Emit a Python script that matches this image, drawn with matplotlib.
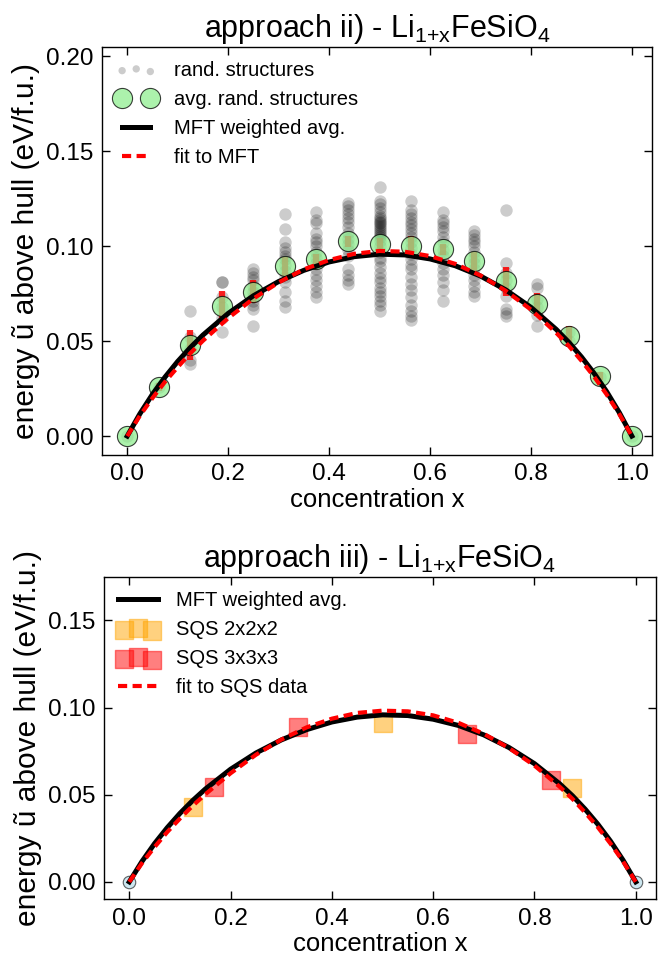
import numpy as np
import matplotlib
matplotlib.use("Agg")
import matplotlib.pyplot as plt
from matplotlib.ticker import FormatStrFormatter
from matplotlib.legend_handler import HandlerPathCollection

plt.rcParams.update({
    "font.family": ["Liberation Sans", "DejaVu Sans"],
    "mathtext.default": "regular",
    "axes.linewidth": 1.0,
})

# ---- top panel: random structures at x = k/16 ----
conc = [0, 0.0625, 0.125, 0.1875, 0.25, 0.3125, 0.375, 0.4375, 0.5,
        0.5625, 0.625, 0.6875, 0.75, 0.8125, 0.875, 0.9375, 1.0]

rand_energies = [
    [0.0],
    [0.026],
    [0.066, 0.052, 0.046, 0.040, 0.038],
    [0.081, 0.081, 0.073, 0.068, 0.062, 0.055],
    [0.088, 0.086, 0.084, 0.082, 0.079, 0.076, 0.073, 0.071, 0.069, 0.067, 0.058],
    [0.117, 0.109, 0.102, 0.099, 0.097, 0.095, 0.093, 0.090, 0.087, 0.084,
     0.081, 0.076, 0.071, 0.068],
    [0.118, 0.114, 0.112, 0.107, 0.104, 0.102, 0.100, 0.097, 0.094, 0.091,
     0.088, 0.085, 0.082, 0.079, 0.076, 0.073],
    [0.123, 0.121, 0.119, 0.117, 0.115, 0.113, 0.110, 0.107, 0.104, 0.101,
     0.098, 0.095, 0.088, 0.085, 0.082, 0.080],
    [0.131, 0.124, 0.122, 0.120, 0.118, 0.116, 0.115, 0.114, 0.113, 0.112,
     0.111, 0.110, 0.109, 0.108, 0.107, 0.106, 0.105, 0.103, 0.100, 0.097,
     0.094, 0.092, 0.089, 0.086, 0.083, 0.081, 0.078, 0.076, 0.074, 0.071,
     0.069, 0.066],
    [0.124, 0.119, 0.117, 0.115, 0.113, 0.111, 0.109, 0.107, 0.105, 0.102,
     0.099, 0.096, 0.093, 0.090, 0.088, 0.084, 0.080, 0.077, 0.073, 0.069,
     0.066, 0.063, 0.061],
    [0.118, 0.114, 0.112, 0.110, 0.108, 0.105, 0.102, 0.098, 0.095, 0.091,
     0.088, 0.085, 0.081, 0.077, 0.071],
    [0.108, 0.106, 0.104, 0.102, 0.100, 0.097, 0.094, 0.091, 0.088, 0.085,
     0.082, 0.079, 0.076, 0.074],
    [0.119, 0.091, 0.086, 0.082, 0.078, 0.074, 0.067, 0.065, 0.063],
    [0.080, 0.078, 0.072, 0.068, 0.064, 0.058],
    [0.055, 0.050],
    [0.031],
    [0.0],
]

avg_energy = [0.0, 0.026, 0.048, 0.0685, 0.076, 0.0895, 0.093, 0.1025, 0.1012,
              0.1002, 0.0983, 0.0922, 0.0816, 0.0694, 0.0525, 0.0315, 0.0]
avg_err = [0.0, 0.002, 0.008, 0.008, 0.006, 0.005, 0.003, 0.003, 0.003,
           0.005, 0.003, 0.005, 0.0077, 0.006, 0.0055, 0.002, 0.0]

# ---- curves ----
curve_x = [0.0, 0.025, 0.05, 0.075, 0.10, 0.125, 0.15, 0.20, 0.25, 0.30,
           0.35, 0.40, 0.45, 0.50, 0.55, 0.60, 0.65, 0.70, 0.75, 0.80,
           0.85, 0.875, 0.90, 0.925, 0.95, 0.975, 1.0]
mft_avg = [0.0, 0.0117, 0.0220, 0.0311, 0.0393, 0.0466, 0.0532, 0.0646,
           0.0739, 0.0814, 0.0873, 0.0917, 0.0945, 0.0958, 0.0954, 0.0933,
           0.0897, 0.0843, 0.0770, 0.0678, 0.0562, 0.0494, 0.0417, 0.0331,
           0.0234, 0.0124, 0.0]
fit_mft = [0.0, 0.0107, 0.0200, 0.0286, 0.0363, 0.0436, 0.0502, 0.0621,
           0.0724, 0.0809, 0.0878, 0.0927, 0.0960, 0.0975, 0.0971, 0.0948,
           0.0907, 0.0846, 0.0765, 0.0666, 0.0544, 0.0475, 0.0397, 0.0313,
           0.0219, 0.0116, 0.0]
fit_sqs = [0.0, 0.0107, 0.0200, 0.0286, 0.0363, 0.0436, 0.0502, 0.0623,
           0.0729, 0.0816, 0.0886, 0.0936, 0.0969, 0.0982, 0.0978, 0.0955,
           0.0912, 0.0849, 0.0767, 0.0667, 0.0545, 0.0476, 0.0398, 0.0314,
           0.0220, 0.0117, 0.0]

# ---- bottom panel: SQS ----
sqs2_x = [0.125, 0.5, 0.875]
sqs2_e = [0.043, 0.091, 0.054]
sqs3_x = [1 / 6, 1 / 3, 2 / 3, 5 / 6]
sqs3_e = [0.0546, 0.0889, 0.085, 0.0586]
end_x = [0.0, 1.0]
end_e = [0.0, 0.0]

TITLE_FS = 22
LABEL_FS = 18.5
YLABEL_FS = 21.5
TICK_FS = 17.5
LEG_FS = 14.5
YLABEL = "energy \u0169 above hull (eV/f.u.)"
FORMULA = "Li$_{1{+}x}$FeSiO$_4$"


def _style(ax, ylim, yticks):
    ax.set_xlim(-0.05, 1.04)
    ax.set_ylim(*ylim)
    ax.set_xticks([0.0, 0.2, 0.4, 0.6, 0.8, 1.0])
    ax.set_yticks(yticks)
    ax.xaxis.set_major_formatter(FormatStrFormatter("%.1f"))
    ax.yaxis.set_major_formatter(FormatStrFormatter("%.2f"))
    ax.tick_params(direction="in", top=True, right=True, length=6, width=1,
                   labelsize=TICK_FS, pad=6)
    ax.set_xlabel("concentration x", fontsize=LABEL_FS, labelpad=2)
    ax.set_ylabel(YLABEL, fontsize=YLABEL_FS, labelpad=4)


fig = plt.figure(figsize=(6.58, 9.56), dpi=100)
ax1 = fig.add_axes([0.155, 0.524, 0.836, 0.427])
ax2 = fig.add_axes([0.158, 0.0593, 0.839, 0.3374])

# ======================= top panel =======================
rx = np.concatenate([[c] * len(e) for c, e in zip(conc, rand_energies)])
ry = np.concatenate([np.asarray(e, float) for e in rand_energies])
sc = ax1.scatter(rx, ry, s=80, c="k", alpha=0.2, linewidths=0, zorder=1,
                 label="rand. structures")
ax1.errorbar(conc, avg_energy, yerr=avg_err, fmt="none", ecolor="red",
             elinewidth=4.5, alpha=0.85, zorder=2)
ax1.plot(conc, avg_energy, "o", ms=14.5, mfc="lightgreen", mec="k",
         mew=0.8, alpha=0.75, zorder=3, label="avg. rand. structures")
ax1.plot(curve_x, mft_avg, color="k", lw=3.6, zorder=4,
         label="MFT weighted avg.")
ax1.plot(curve_x, fit_mft, color="red", lw=3, dashes=(2.2, 1.3), zorder=5,
         label="fit to MFT")
_style(ax1, (-0.01, 0.205), [0.0, 0.05, 0.10, 0.15, 0.20])
ax1.set_title("approach ii) - " + FORMULA, fontsize=TITLE_FS, pad=7)
ax1.legend(loc="upper left", frameon=False, fontsize=LEG_FS, numpoints=2,
           scatterpoints=3, handletextpad=0.9, borderaxespad=0.3,
           handler_map={sc: HandlerPathCollection(sizes=[28, 28, 28])})

# ======================= bottom panel =======================
ax2.plot(end_x, end_e, "o", ms=9, mfc="lightblue", mec="k", mew=0.8,
         alpha=0.6, zorder=1)
ax2.plot(curve_x, mft_avg, color="k", lw=3.6, zorder=3,
         label="MFT weighted avg.")
ax2.scatter(sqs2_x, sqs2_e, s=170, marker="s", c="orange", alpha=0.5,
            linewidths=1, edgecolors="orange", zorder=2, label="SQS 2x2x2")
ax2.scatter(sqs3_x, sqs3_e, s=170, marker="s", c="red", alpha=0.5,
            linewidths=1, edgecolors="red", zorder=2, label="SQS 3x3x3")
ax2.plot(curve_x, fit_sqs, color="red", lw=3, dashes=(2.2, 1.3), zorder=4,
         label="fit to SQS data")
_style(ax2, (-0.01, 0.175), [0.0, 0.05, 0.10, 0.15])
ax2.set_title("approach iii) - " + FORMULA, fontsize=TITLE_FS, pad=7)
ax2.legend(loc="upper left", frameon=False, fontsize=LEG_FS,
           scatterpoints=3, handletextpad=0.9, borderaxespad=0.3)

fig.savefig("out.png", dpi=100)
